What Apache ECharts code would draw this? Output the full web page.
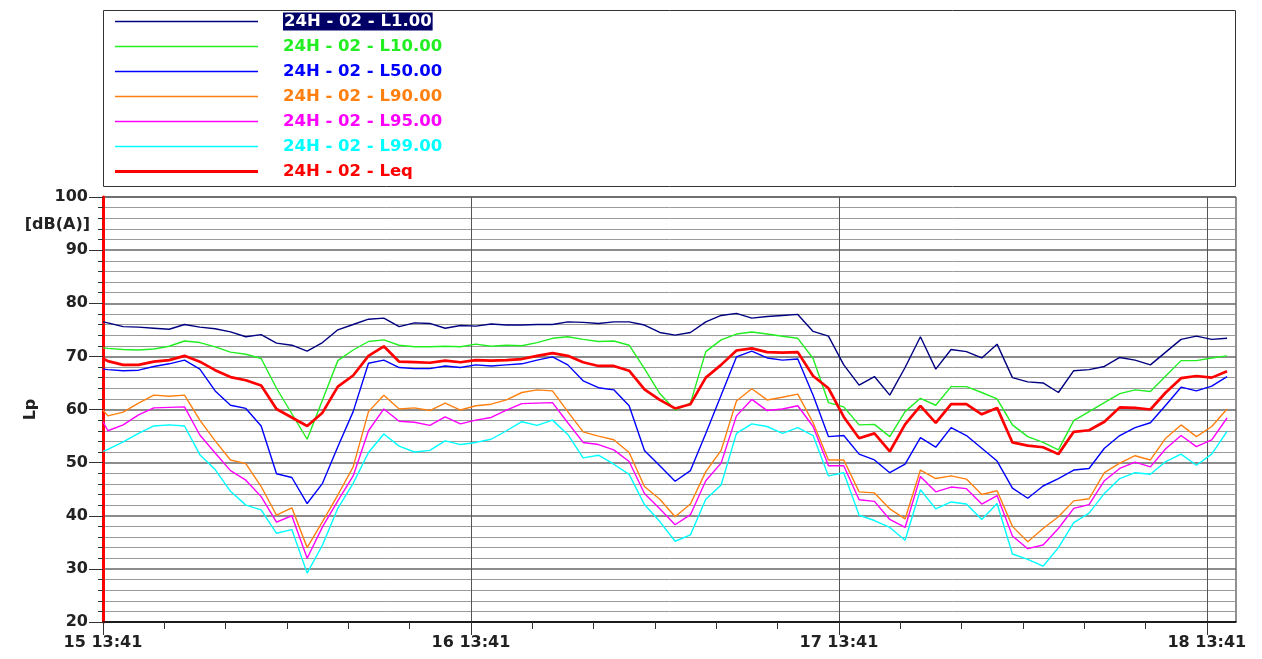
<!DOCTYPE html>
<html><head><meta charset="utf-8">
<script src="https://cdn.jsdelivr.net/npm/echarts@6/dist/echarts.min.js"></script>
<style>html,body{margin:0;padding:0;background:#fff}#c{width:1262px;height:659px}</style>
</head><body><div id="c"></div>
<script>
// x: hours after 15 13:41 (start sample, then hourly samples on the hour)
const sampleHours = [0];
for (let k = 1; k <= 74; k++) sampleHours.push(k - 41 / 60);
const dayTickLabels = ['15 13:41', '16 13:41', '17 13:41', '18 13:41'];
const yTicks = [20, 30, 40, 50, 60, 70, 80, 90, 100];

const seriesNames = ['24H - 02 - L1.00', '24H - 02 - L10.00', '24H - 02 - L50.00', '24H - 02 - L90.00', '24H - 02 - L95.00', '24H - 02 - L99.00', '24H - 02 - Leq'];

const L1 = [76.5,76.3,75.6,75.5,75.3,75.1,76.0,75.5,75.2,74.6,73.7,74.1,72.5,72.1,71.0,72.6,75.0,76.0,77.0,77.2,
75.6,76.3,76.2,75.3,75.8,75.7,76.1,75.9,75.9,76.0,76.0,76.5,76.4,76.2,76.5,76.5,75.9,74.5,74.0,74.5,
76.5,77.7,78.1,77.2,77.5,77.7,77.9,74.7,73.8,68.4,64.6,66.2,62.7,67.9,73.7,67.6,71.3,70.9,69.7,72.3,
66.0,65.2,65.0,63.2,67.3,67.5,68.1,69.8,69.3,68.4,70.8,73.2,73.8,73.2,73.4];
const L10 = [71.6,71.5,71.3,71.2,71.4,71.9,72.9,72.6,71.8,70.8,70.4,69.6,64.0,59.2,54.4,61.8,69.2,71.2,72.8,73.1,
72.1,71.8,71.8,71.9,71.8,72.3,71.9,72.1,72.0,72.6,73.4,73.7,73.2,72.8,72.9,72.1,67.7,63.0,59.9,61.2,
70.9,73.1,74.2,74.6,74.2,73.8,73.4,69.6,61.3,60.5,57.1,57.2,54.9,59.6,62.1,60.8,64.3,64.3,63.2,62.0,
57.1,54.9,53.8,52.4,57.9,59.6,61.3,63.0,63.7,63.4,66.3,69.2,69.2,69.7,70.1];
const L50 = [67.6,67.5,67.3,67.4,68.1,68.6,69.3,67.6,63.5,60.8,60.2,56.9,47.9,47.2,42.3,46.1,53.0,59.6,68.7,69.3,
67.9,67.7,67.7,68.2,67.9,68.4,68.2,68.4,68.6,69.3,69.9,68.4,65.4,64.1,63.7,60.7,52.3,49.4,46.5,48.5,
55.5,62.7,69.9,71.0,69.7,69.3,69.5,62.7,54.9,55.1,51.6,50.5,48.1,49.7,54.7,52.9,56.6,55.1,52.7,50.3,
45.2,43.3,45.6,47.0,48.6,48.9,52.7,55.1,56.6,57.5,60.8,64.2,63.5,64.4,66.2];
const L90 = [59.9,58.8,59.5,61.2,62.7,62.5,62.7,58.0,54.1,50.5,49.8,45.5,40.1,41.5,34.0,38.9,43.9,49.2,59.6,62.7,
60.1,60.3,59.8,61.2,59.9,60.7,61.0,61.8,63.2,63.7,63.5,59.6,55.8,55.0,54.3,51.9,45.5,43.1,39.8,42.2,
48.3,52.3,61.6,63.9,61.8,62.3,62.9,57.5,50.5,50.5,44.5,44.3,41.3,39.4,48.6,47.0,47.5,46.9,44.0,44.7,
38.0,35.1,37.6,39.8,42.8,43.2,48.1,49.9,51.3,50.5,54.6,57.1,54.9,56.8,60.1];
const L95 = [57.7,56.0,57.1,59.0,60.3,60.4,60.5,55.2,51.8,48.5,46.7,43.6,38.8,40.0,32.0,37.9,42.8,47.5,56.0,60.1,
57.8,57.6,57.0,58.6,57.3,58.0,58.5,59.9,61.1,61.2,61.3,57.5,53.8,53.4,52.4,50.2,44.2,41.3,38.3,40.2,
46.6,49.9,58.8,61.9,59.8,60.1,60.7,56.8,49.4,49.4,43.0,42.7,39.3,37.8,47.4,44.5,45.4,45.1,42.2,43.8,
36.2,33.8,34.5,37.6,41.4,42.1,46.6,48.9,50.1,49.2,52.6,55.1,53.0,54.3,58.4];
const L99 = [52.1,52.5,53.9,55.5,56.9,57.1,56.9,51.5,48.7,44.6,42.0,41.1,36.7,37.4,29.2,34.5,41.4,46.1,51.9,55.4,
53.1,52.0,52.3,54.1,53.4,53.8,54.4,56.0,57.7,57.0,58.0,55.3,50.9,51.4,49.7,47.8,42.1,38.9,35.2,36.4,
43.1,45.8,55.5,57.3,56.8,55.5,56.6,55.1,47.5,48.1,40.1,39.1,37.8,35.4,44.9,41.3,42.6,42.2,39.3,42.3,
32.8,31.8,30.5,34.0,38.7,40.5,44.2,47.0,48.1,47.8,50.2,51.6,49.5,51.6,55.9];
const Leq = [69.6,69.1,68.4,68.4,69.0,69.3,70.1,69.0,67.4,66.1,65.5,64.5,60.1,58.5,56.9,59.4,64.3,66.4,70.1,71.9,
69.0,68.9,68.8,69.2,68.9,69.3,69.2,69.3,69.5,70.1,70.6,70.1,68.9,68.2,68.2,67.3,63.8,61.8,60.2,61.0,
66.0,68.4,71.1,71.5,70.8,70.7,70.8,66.3,64.0,58.6,54.6,55.5,52.1,57.2,60.7,57.5,61.0,61.0,59.1,60.3,
53.8,53.2,52.9,51.6,55.8,56.1,57.7,60.4,60.3,60.0,63.2,65.9,66.3,66.0,67.2];

const seriesValues = [L1, L10, L50, L90, L95, L99, Leq];
const colors = ['#000080', '#22ee22', '#0000ff', '#ff8010', '#ff00ff', '#00ffff', '#ff0000'];
const widths = [1.4, 1.4, 1.4, 1.4, 1.4, 1.4, 2.7];

const FONT = 'DejaVu Sans';
const FS = 16.5;
const hourTicks = []; for (let h = 0; h <= 72; h += 4) hourTicks.push(h);
const dayTicks = [0, 24, 48, 72];

// legend line icons (full 143x14 bounding box so the line keeps its thickness)
const thinIcon = 'path://M0,0 M143,14 M0,6.2 H143 V7.8 H0 Z';
const thickIcon = 'path://M0,0 M143,14 M0,5.6 H143 V8.4 H0 Z';

const rich = { g: { width: 20, fontSize: FS } };
colors.forEach((c, i) => {
  rich['s' + i] = { color: c, fontFamily: FONT, fontWeight: 'bold', fontSize: FS, lineHeight: 21 };
});
rich.s0 = { color: '#ffffff', backgroundColor: '#000066', padding: [1, 1, 0, 1], fontFamily: FONT, fontWeight: 'bold', fontSize: FS, lineHeight: 21 };

const chart = echarts.init(document.getElementById('c'), null, { renderer: 'canvas' });
chart.setOption({
  animation: false,
  backgroundColor: '#ffffff',
  grid: { left: 103, right: 26, top: 197, bottom: 37, show: true, borderColor: '#222', borderWidth: 1, backgroundColor: 'transparent' },
  legend: {
    orient: 'vertical', left: 115, top: 11, padding: 0, itemWidth: 143, itemHeight: 14, itemGap: 4,
    data: seriesNames.map((n, i) => ({ name: n, icon: i === 6 ? thickIcon : thinIcon })),
    selectedMode: false, symbolKeepAspect: false,
    formatter: name => '{g| }{s' + seriesNames.indexOf(name) + '|' + name + '}',
    textStyle: { fontFamily: FONT, fontWeight: 'bold', fontSize: FS, lineHeight: 21, rich: rich }
  },
  xAxis: [
    {
      type: 'value', min: 0, max: 73.9, interval: 4, position: 'bottom',
      axisLine: { show: true, lineStyle: { color: '#000', width: 1.5 } },
      axisTick: { show: true, length: 7, customValues: hourTicks, lineStyle: { color: '#333' } },
      axisLabel: { show: false }, splitLine: { show: false }
    },
    {
      type: 'value', min: 0, max: 73.9, interval: 24, position: 'bottom',
      axisLine: { show: false },
      axisTick: { show: true, length: 13, customValues: dayTicks, lineStyle: { color: '#333' } },
      axisLabel: { show: true, customValues: dayTicks, margin: 13, fontFamily: FONT, fontWeight: 'bold', fontSize: 16, color: '#222',
        formatter: v => dayTickLabels[Math.round(v / 24)] },
      splitLine: { show: true, lineStyle: { color: '#555', width: 1 } }
    }
  ],
  yAxis: {
    type: 'value', min: 20, max: 100, interval: 10,
    name: 'Lp', nameLocation: 'middle', nameGap: 64, nameRotate: 90,
    nameTextStyle: { fontFamily: FONT, fontWeight: 'bold', fontSize: 16, color: '#222' },
    axisLine: { show: true, lineStyle: { color: '#ff0000', width: 3 } },
    axisTick: { show: true, length: 14, lineStyle: { color: '#333' } },
    minorTick: { show: true, splitNumber: 5, length: 5, lineStyle: { color: '#333' } },
    axisLabel: { margin: 15, fontFamily: FONT, fontWeight: 'bold', fontSize: 16, color: '#222',
      customValues: yTicks },
    splitLine: { show: true, lineStyle: { color: '#666', width: 1.5 } },
    minorSplitLine: { show: true, lineStyle: { color: '#9a9a9a', width: 1 } }
  },
  graphic: [
    { type: 'rect', shape: { x: 103.5, y: 10.5, width: 1132, height: 176 }, style: { fill: 'none', stroke: '#333', lineWidth: 1 }, z: 0, silent: true },
    { type: 'text', x: 90, y: 225, style: { text: '[dB(A)]', fill: '#222', font: 'bold 16px "DejaVu Sans"', textAlign: 'right', textVerticalAlign: 'middle' }, silent: true }
  ],
  series: seriesValues.map((vals, i) => ({
    name: seriesNames[i], type: 'line', xAxisIndex: 0, symbol: 'none', silent: true,
    color: colors[i],
    lineStyle: { color: colors[i], width: widths[i] },
    data: sampleHours.map((h, j) => [h, vals[j]])
  }))
});
</script></body></html>
